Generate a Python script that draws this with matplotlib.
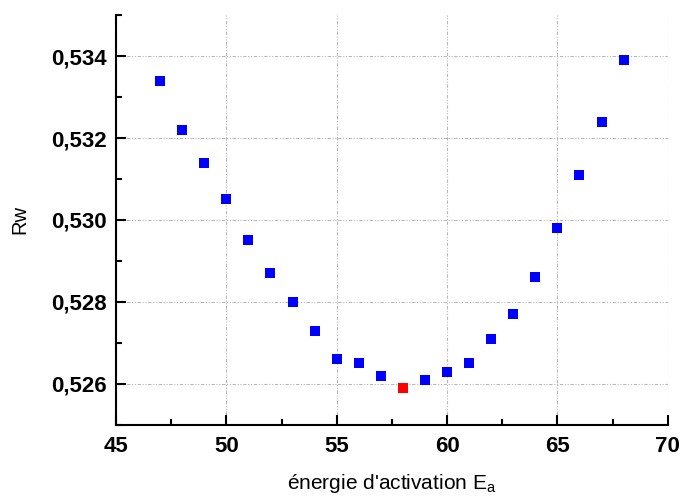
import matplotlib
matplotlib.use("Agg")
import matplotlib.pyplot as plt
from matplotlib.ticker import MultipleLocator, FuncFormatter


ENERGY = [47, 48, 49, 50, 51, 52, 53, 54, 55, 56, 57,
          58, 59, 60, 61, 62, 63, 64, 65, 66, 67, 68]
RW = [0.5334, 0.5322, 0.5314, 0.5305, 0.5295, 0.5287, 0.5280, 0.5273,
      0.5266, 0.5265, 0.5262, 0.5259, 0.5261, 0.5263, 0.5265, 0.5271,
      0.5277, 0.5286, 0.5298, 0.5311, 0.5324, 0.5339]
BEST_E = [58]
BEST_RW = [0.5259]


def comma(v, pos):
    return f"{v:.3f}".replace(".", ",")


plt.rcParams["font.family"] = ["Liberation Sans", "DejaVu Sans"]

fig = plt.figure(figsize=(6.8, 4.97), dpi=100)
ax = fig.add_axes([0.1706, 0.1449, 0.8114, 0.8249])

ax.plot(ENERGY, RW, linestyle="none", marker="s", markersize=6.7,
        color="#0000ff", markeredgewidth=0, zorder=3)
ax.plot(BEST_E, BEST_RW, linestyle="none", marker="s", markersize=6.7,
        color="#ff0000", markeredgewidth=0, zorder=4)

ax.set_xlim(45, 70)
ax.set_ylim(0.525, 0.535)

ax.xaxis.set_major_locator(MultipleLocator(5))
ax.xaxis.set_minor_locator(MultipleLocator(2.5))
ax.yaxis.set_major_locator(MultipleLocator(0.002))
ax.yaxis.set_minor_locator(MultipleLocator(0.001))
ax.yaxis.set_major_formatter(FuncFormatter(comma))

for side in ("top", "right"):
    ax.spines[side].set_visible(False)
for side in ("left", "bottom"):
    ax.spines[side].set_linewidth(1.5)

ax.tick_params(which="major", direction="in", length=7, width=1.5,
               labelsize=16)
ax.tick_params(axis="y", which="major", pad=7)
ax.tick_params(axis="x", which="major", pad=8)
ax.tick_params(which="minor", direction="in", length=4, width=1.5)
for lab in ax.get_xticklabels() + ax.get_yticklabels():
    lab.set_fontweight("bold")

ax.grid(which="major", color="#b8b8b8", linewidth=0.8,
        linestyle=(0, (3, 1.5, 1, 1.5, 1, 1.5)))
ax.set_axisbelow(True)

ax.set_ylabel("Rw", fontsize=14.5, labelpad=15)
ax.set_xlabel("énergie d'activation E$_\\mathregular{a}$", fontsize=15,
              labelpad=11)

fig.savefig("out.png", dpi=100, facecolor="white")
